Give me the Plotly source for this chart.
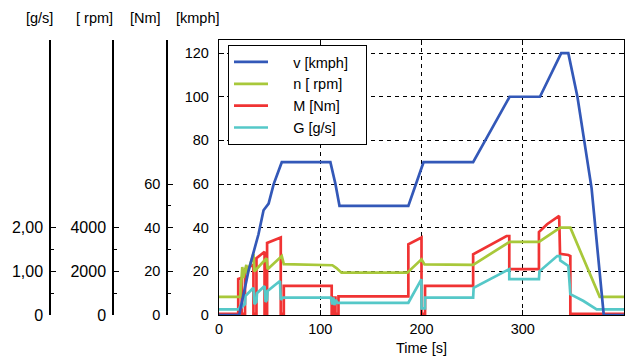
import plotly.graph_objects as go

# ---------------- data ----------------
# vehicle speed v [kmph]
t_v = [0, 20, 29, 39, 44, 49, 54, 62, 110, 115, 119, 187, 202, 251, 287, 317, 338, 345, 354, 361.5, 368, 380, 400]
v_kmph = [0, 0, 20, 37, 48, 51, 60, 70, 70, 60, 50, 50, 70, 70, 100, 100, 120, 120, 100, 78, 58, 0, 0]

# engine speed n [rpm]
t_n = [0, 21, 23, 24, 27, 28, 34, 35, 47, 48, 62, 64, 112, 116, 121, 186, 200, 203, 251, 287, 316, 337, 347, 360, 370, 376, 400]
n_rpm = [830, 830, 2200, 1700, 2300, 1900, 2800, 2000, 2600, 2100, 2700, 2330, 2280, 2150, 1940, 1940, 2550, 2320, 2300, 3350, 3350, 4000, 4000, 2600, 1560, 830, 830]

# engine torque M [Nm]
t_M = [0, 19, 19, 22.4, 22.4, 25.7, 25.7, 34, 34, 37, 37, 45, 45, 47.5, 47.5, 61, 61, 64, 64,
       111.3, 111.3, 113, 113, 115, 115, 118, 118, 187, 187, 200, 200, 203.5, 203.5,
       251, 251, 284, 286.7, 286.7, 316, 316, 324, 336, 336.8, 345, 347, 347, 400]
M_Nm = [0.5, 0.5, 16.5, 17, 0.5, 0.5, 21, 23, 0.5, 0.5, 26, 29, 0.5, 0.5, 33, 35.5, 0.5, 0.5, 13.3,
        13.3, 0.5, 0.5, 8, 8, 0.5, 0.5, 8.5, 8.5, 32.4, 35.5, 0.5, 0.5, 13.3,
        13.3, 27.8, 36.2, 36.2, 21, 21, 38, 41.6, 45.4, 28, 27.5, 27, 0.5, 0.5]

# fuel flow G [g/s]
t_G = [0, 19.6, 22.4, 23.5, 25.7, 26, 34, 35, 37, 37.5, 45, 46, 47.5, 48, 60.2, 61, 63.5,
       110.3, 112, 113, 114, 115, 117, 121, 187, 200, 200, 203.5, 203.5,
       251, 251.5, 286.7, 286.7, 316, 316.5, 334, 336.8, 337, 345, 347, 360, 373, 400]
G_gs = [0.13, 0.13, 0.28, 0.2, 0.25, 0.435, 0.625, 0.25, 0.3, 0.5, 0.665, 0.3, 0.35, 0.55, 0.78, 0.35, 0.4,
        0.4, 0.245, 0.4, 0.225, 0.35, 0.28, 0.28, 0.28, 0.82, 0.15, 0.15, 0.4,
        0.4, 0.625, 1.05, 0.82, 0.82, 1.0, 1.35, 1.35, 1.25, 1.125, 0.475, 0.32, 0.13, 0.13]

x_ticks = [0, 100, 200, 300, 400]
kmph_ticks = [0, 20, 40, 60, 80, 100, 120]
Nm_ticks = [0, 20, 40, 60]
rpm_ticks = [0, 2000, 4000]
gs_ticks = [0, 1, 2]
gs_labels = ["0", "1,00", "2,00"]

# ---------------- style ----------------
FONT = "Liberation Sans, Arial, sans-serif"
C_V = "#3358B8"
C_N = "#A8C83A"
C_M = "#F03333"
C_G = "#55C8C8"
LW = 2.7
R = 126.0          # common vertical span in kmph / Nm units
TOP = 0.997        # top bracket tick, just inside the range

OFF = 8            # page body margin of the html page
W, H = 634 - OFF, 358 - OFF
ML, MR, MT, MB = 2, 10, 32, 43
PW = W - ML - MR
PH = H - MT - MB


def px_x(px):
    """screen pixel -> paper fraction"""
    return (px - OFF - ML) / PW


def px_y(py):
    return (H - MB - (py - OFF)) / PH


x_dom0 = px_x(219)

fig = go.Figure()
fig.add_trace(go.Scatter(x=t_M, y=M_Nm, mode="lines", name="     M [Nm]     ", yaxis="y",
                         line=dict(color=C_M, width=LW), legendrank=3))
fig.add_trace(go.Scatter(x=t_G, y=G_gs, mode="lines", name="     G [g/s]     ", yaxis="y2",
                         line=dict(color=C_G, width=LW), legendrank=4))
fig.add_trace(go.Scatter(x=t_n, y=n_rpm, mode="lines", name="     n [ rpm]    ", yaxis="y3",
                         line=dict(color=C_N, width=LW), legendrank=2))
fig.add_trace(go.Scatter(x=t_v, y=v_kmph, mode="lines", name="     v [kmph]   ", yaxis="y4",
                         line=dict(color=C_V, width=LW), legendrank=1))

aux_common = dict(
    anchor="free", showgrid=False, zeroline=False, showline=True,
    linecolor="black", linewidth=1.5, ticks="inside", ticklen=5, tickwidth=1.2,
    tickcolor="black", side="left", tickmode="array", ticklabelstandoff=3,
)

fig.update_layout(
    width=W, height=H,
    margin=dict(l=ML, r=MR, t=MT, b=MB, autoexpand=False),
    paper_bgcolor="white", plot_bgcolor="white",
    font=dict(family=FONT, size=14, color="black"),
    showlegend=True,
    legend=dict(x=px_x(228), y=px_y(45), xanchor="left", yanchor="top",
                bgcolor="white", bordercolor="black", borderwidth=1,
                font=dict(family=FONT, size=14.5, color="black"),
                itemwidth=34),
    xaxis=dict(domain=[x_dom0, 1], range=[0, 400], tickvals=x_ticks,
               ticks="inside", ticklen=5, tickcolor="black", showline=True,
               linecolor="black", linewidth=1.3, mirror="ticks",
               showgrid=True, gridcolor="black", gridwidth=1.2, griddash="4px,4px",
               zeroline=False, tickfont=dict(family=FONT, size=14.5, color="black"),
               title=dict(text="Time [s]", standoff=7,
                          font=dict(family=FONT, size=14.5, color="black"))),
    yaxis=dict(range=[0, R], position=px_x(167),
               tickvals=Nm_ticks + [R * TOP], ticktext=[str(v) for v in Nm_ticks] + [""],
               minor=dict(tickvals=[10, 30, 50], ticklen=3, ticks="inside", tickcolor="black"),
               tickfont=dict(family=FONT, size=14.5, color="black"),
               **aux_common),
    yaxis2=dict(range=[0, R / 20], position=px_x(50), overlaying="y",
                tickvals=gs_ticks + [R / 20 * TOP], ticktext=gs_labels + [""],
                minor=dict(tickvals=[0.5, 1.5], ticklen=3, ticks="inside", tickcolor="black"),
                tickfont=dict(family=FONT, size=16, color="black"),
                **aux_common),
    yaxis3=dict(range=[0, R * 100], position=px_x(113), overlaying="y",
                tickvals=rpm_ticks + [R * 100 * TOP], ticktext=[str(v) for v in rpm_ticks] + [""],
                minor=dict(tickvals=[1000, 3000], ticklen=3, ticks="inside", tickcolor="black"),
                tickfont=dict(family=FONT, size=16, color="black"),
                **aux_common),
    yaxis4=dict(range=[0, R], anchor="x", overlaying="y", side="left",
                tickvals=kmph_ticks, ticks="inside", ticklen=5, tickcolor="black",
                showline=True, linecolor="black", linewidth=1.3, mirror="ticks",
                showgrid=True, gridcolor="black", gridwidth=1.2, griddash="4px,4px",
                zeroline=False, ticklabelstandoff=6,
                tickfont=dict(family=FONT, size=14.5, color="black")),
)

for txt, right in [("[g/s]", 55), ("[ rpm]", 115), ("[Nm]", 163), ("[kmph]", 222)]:
    fig.add_annotation(text=txt, xref="paper", yref="paper", x=px_x(right), y=px_y(18),
                       xanchor="right", yanchor="middle", showarrow=False,
                       font=dict(family=FONT, size=14.5, color="black"))

fig.write_html("out.html")
